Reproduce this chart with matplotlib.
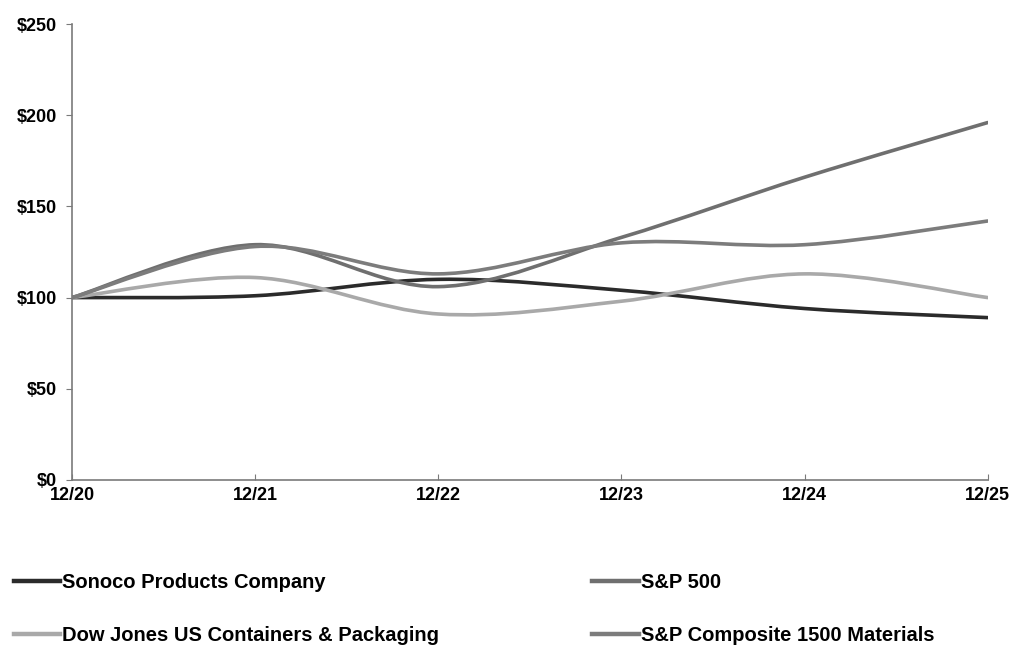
import matplotlib
matplotlib.use('Agg')
import matplotlib.pyplot as plt
from matplotlib.path import Path
from matplotlib.patches import PathPatch
from matplotlib.lines import Line2D
import numpy as np

plt.rcParams['font.family'] = ['Liberation Sans', 'DejaVu Sans']

periods = ['12/20', '12/21', '12/22', '12/23', '12/24', '12/25']
sonoco = [100, 101, 110, 104, 94, 89]
sp500 = [100, 129, 106, 133, 166, 196]
djcontainers = [100, 111, 91, 98, 113, 100]
sp_materials = [100, 128, 113, 130, 129, 142]

series = [
    ('Sonoco Products Company', sonoco, '#2b2b2b'),
    ('Dow Jones US Containers & Packaging', djcontainers, '#a9a9a9'),
    ('S&P 500', sp500, '#6f6f6f'),
    ('S&P Composite 1500 Materials', sp_materials, '#7c7c7c'),
]


def smooth_path(xs, ys):
    # Excel-style smoothed line: cubic Bezier segments through every point
    pts = np.column_stack([xs, ys]).astype(float)
    ext = np.vstack([pts[0], pts, pts[-1]])
    verts = [pts[0]]
    codes = [Path.MOVETO]
    for i in range(len(pts) - 1):
        p0, p1, p2, p3 = ext[i], ext[i + 1], ext[i + 2], ext[i + 3]
        verts += [p1 + (p2 - p0) / 6, p2 - (p3 - p1) / 6, p2]
        codes += [Path.CURVE4] * 3
    return Path(verts, codes)


fig = plt.figure(figsize=(10.14, 6.52), dpi=100)
ax = fig.add_axes([0.071, 0.264, 0.903, 0.699])

x = np.arange(len(periods))
handles = []
for name, vals, col in series:
    patch = PathPatch(smooth_path(x, vals), facecolor='none', edgecolor=col,
                      lw=2.6, capstyle='round', joinstyle='round')
    ax.add_patch(patch)
    handles.append(Line2D([], [], color=col, lw=3.2, label=name))

ax.set_xlim(0, len(periods) - 1)
ax.set_ylim(0, 250)
ax.set_xticks(x)
ax.set_xticklabels(periods, fontsize=13, fontweight='bold')
ax.set_yticks([0, 50, 100, 150, 200, 250])
ax.set_yticklabels(['$0', '$50', '$100', '$150', '$200', '$250'],
                   fontsize=13, fontweight='bold')
for s in ['top', 'right']:
    ax.spines[s].set_visible(False)
for s in ['left', 'bottom']:
    ax.spines[s].set_color('#7a7a7a')
    ax.spines[s].set_linewidth(1.2)
ax.tick_params(axis='y', length=4, color='#7a7a7a', pad=7)
ax.tick_params(axis='x', direction='in', length=4, color='#7a7a7a', pad=5)

fig.legend(handles=handles, ncol=2, loc='upper left',
           bbox_to_anchor=(-0.004, 0.149), frameon=False,
           prop={'weight': 'bold', 'size': 14.5},
           handlelength=2.3, handletextpad=0.1, columnspacing=7.6,
           labelspacing=1.7)

fig.savefig('out.png', dpi=100)
plt.close(fig)
